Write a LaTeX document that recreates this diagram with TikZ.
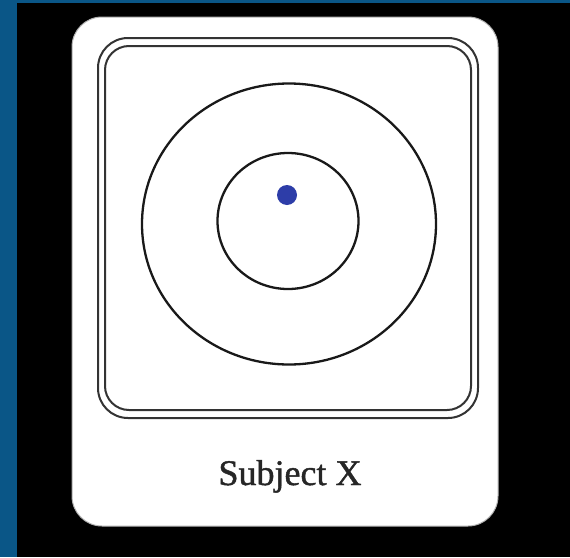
\documentclass[tikz,border=0pt]{standalone}
\usepackage{fontspec}
\setmainfont{Liberation Serif}
\newfontfamily\labelfont[FakeBold=1.2]{Liberation Serif}
\usetikzlibrary{shapes.geometric}
\definecolor{bgblue}{HTML}{0A5687}
\definecolor{dotblue}{HTML}{2D3DA8}
\begin{document}
\begin{tikzpicture}[x=1pt,y=-1pt,
  ring/.style={draw=black!90,line width=2.3pt,ellipse,inner sep=0pt},
  frame/.style={draw=black!80,line width=2pt,rounded corners=30pt,inner sep=0pt}]
\useasboundingbox (0,0) rectangle (570,557);
\fill[bgblue] (0,0) rectangle (570,557);
\fill[black] (17,3) rectangle (570,557);
\node[fill=white,draw=gray!60,line width=1pt,rounded corners=30pt,minimum width=426pt,minimum height=509pt,inner sep=0pt] (card) at (285,271.5) {};
\node[frame,minimum width=380pt,minimum height=380pt] (outersq) at (288,228) {};
\node[frame,rounded corners=24pt,minimum width=366pt,minimum height=364pt] (innersq) at (288,228) {};
\node[ring,minimum width=294pt,minimum height=281pt] (outerring) at (289,224) {};
\node[ring,minimum width=141pt,minimum height=136pt] (innerring) at (288,221) {};
\node[circle,fill=dotblue,minimum size=20pt,inner sep=0pt] (dot) at (287,195) {};
\node[anchor=base,font=\labelfont\fontsize{36}{40}\selectfont,text=black!85,inner sep=0pt] (label) at (290,485) {Subject X};
\end{tikzpicture}
\end{document}
